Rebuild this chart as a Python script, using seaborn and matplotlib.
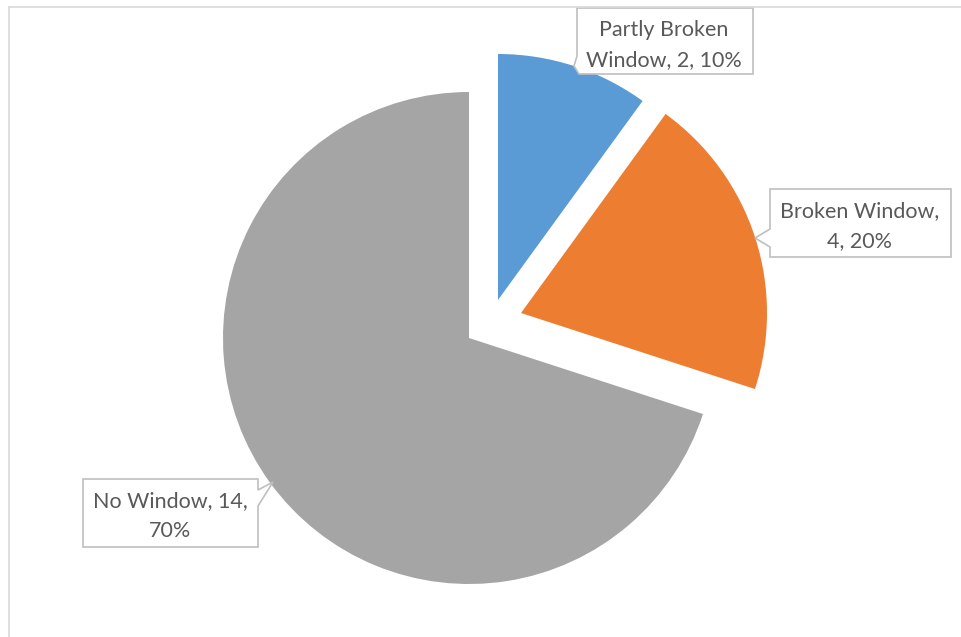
import matplotlib
matplotlib.use("Agg")
import matplotlib.pyplot as plt
import seaborn as sns
from matplotlib.patches import Polygon
from matplotlib.lines import Line2D

# Data
categories = ["Partly Broken Window", "Broken Window", "No Window"]
counts = [2, 4, 14]
label_lines = [["Partly Broken", "Window, {c}, {p}%"],
               ["Broken Window,", "{c}, {p}%"],
               ["No Window, {c},", "{p}%"]]
colors = ["#5B9BD5", "#ED7D31", "#A5A5A5"]

sns.set_theme(style="white")
plt.rcParams["font.family"] = ["Lato", "DejaVu Sans"]

W, H = 962, 637
fig = plt.figure(figsize=(W / 100, H / 100), dpi=100)
ax = fig.add_axes([0, 0, 1, 1])


def py(y):
    """Convert a top-down pixel row into the axes' bottom-up coordinate."""
    return H - y


# Chart area outline (top and left edges visible)
fig.add_artist(Line2D([9 / W, 1], [py(7) / H, py(7) / H], color="#D9D9D9", lw=1.2))
fig.add_artist(Line2D([9 / W, 9 / W], [0, py(7) / H], color="#D9D9D9", lw=1.2))

# Pie, clockwise from 12 o'clock
cx, cy, r = 469, py(338), 246
wedges, _ = ax.pie(counts, colors=colors, startangle=90, counterclock=False,
                   radius=r, center=(cx, cy), frame=True,
                   wedgeprops=dict(linewidth=0))
ax.set_xlim(0, W)
ax.set_ylim(0, H)
ax.set_aspect("equal")
ax.axis("off")

# Pull the two smaller slices away from the centre
offsets = [(29, 38), (52, 25), (0, 0)]
for w, (dx, dy) in zip(wedges, offsets):
    w.set_center((cx + dx, cy + dy))

total = sum(counts)
text_color = "#595959"
edge_color = "#BFBFBF"


def callout(pts, lines, center_x, first_baseline):
    poly = Polygon([(x, py(y)) for x, y in pts], closed=True,
                   facecolor="white", edgecolor=edge_color, lw=1.2, zorder=5)
    ax.add_patch(poly)
    for i, line in enumerate(lines):
        ax.text(center_x, py(first_baseline + i * 30), line, ha="center",
                va="baseline", fontsize=15.5, color=text_color, zorder=6)


for i, (cat, c) in enumerate(zip(categories, counts)):
    pct = round(100 * c / total)
    lines = [s.format(c=c, p=pct) for s in label_lines[i]]
    if i == 0:
        callout([(577, 8), (753, 8), (753, 74), (579, 74), (574, 66), (577, 56)],
                lines, 664, 36)
    elif i == 1:
        callout([(770, 189), (951, 189), (951, 257), (770, 257),
                 (770, 247), (755, 238), (770, 229)],
                lines, 860, 217)
    else:
        callout([(83, 479), (258, 479), (258, 490), (273, 482),
                 (258, 506), (258, 547), (83, 547)],
                lines, 170, 507)

fig.savefig("out.png", dpi=100)
